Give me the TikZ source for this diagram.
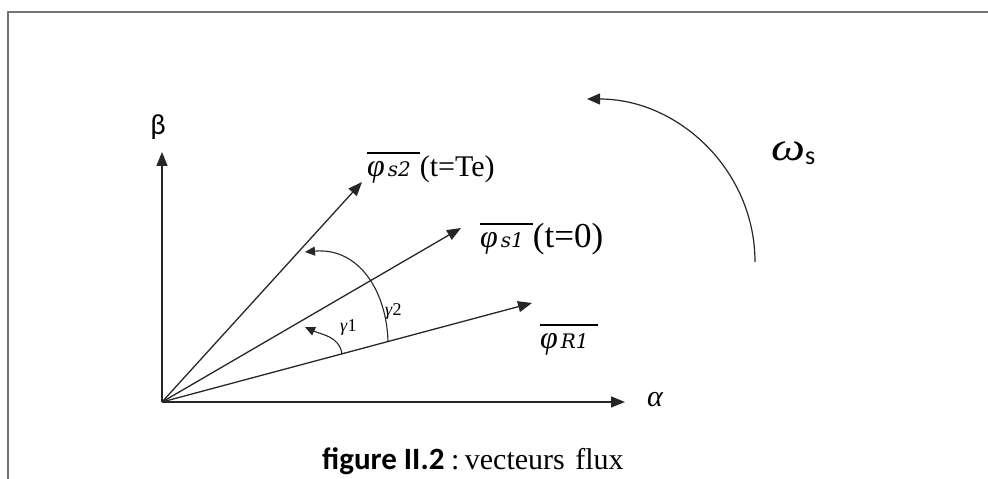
\documentclass[tikz,border=0pt]{standalone}
\usepackage{fontspec}
\usepackage{graphicx}
\setmainfont{Liberation Serif}
\newfontfamily\calib{Carlito}
\newfontfamily\dvs{DejaVu Serif}
\usetikzlibrary{arrows.meta}
\newcommand{\flx}[1]{\setbox0\hbox{\fontsize{32}{34}\selectfont\itshape φ\kern3pt\dvs\itshape\fontsize{20}{22}\selectfont #1\kern9pt}\rlap{\rule[23pt]{\wd0}{1.6pt}}\box0}
\begin{document}
\begin{tikzpicture}[x=1pt,y=1pt,
  vec/.style={line width=1.3pt, draw=black!85, -{Triangle[length=14pt,width=11pt]}},
  turn/.style={line width=1.1pt, draw=black!85, -{Triangle[length=10pt,width=9pt]}},
  bigturn/.style={line width=1.2pt, draw=black!85, -{Triangle[length=13pt,width=11pt]}},
  lbl/.style={inner sep=0pt, anchor=base west},
  frame/.style={draw=black!55, line width=2pt},
]
\useasboundingbox (0,0) rectangle (988,479);
% frame
\coordinate (F1) at (988,467);
\coordinate (F2) at (8,467);
\coordinate (F3) at (8,0);
\draw[frame] (F1) -- (F2) -- (F3);
% axes and vectors
\coordinate (O) at (162,77);
\coordinate (B) at (162,327);
\coordinate (A) at (625,77);
\coordinate (S2) at (362,297);
\coordinate (S1) at (461,251);
\coordinate (R1) at (532,176);
\draw[vec] (O) -- (B);
\draw[vec] (O) -- (A);
\draw[vec] (O) -- (S2);
\draw[vec] (O) -- (S1);
\draw[vec] (O) -- (R1);
% angle arcs
\coordinate (G1s) at (342,125);
\coordinate (G1e) at (305,152);
\coordinate (G2s) at (388,138);
\coordinate (G2e) at (305,227);
\draw[turn] (G1s) to[out=98,in=-25] (G1e);
\draw[turn] (G2s) to[out=92,in=5,looseness=1.1] (G2e);
% omega arc
\coordinate (W1) at (755,217);
\coordinate (W2) at (587,380);
\draw[bigturn] (W1) to[out=90,in=0] (W2);
% labels
\node (beta) at (158,352) {\calib\fontsize{29}{31}\selectfont β};
\node (alpha) at (655,79) {\fontsize{30}{32}\selectfont\itshape α};
\node[lbl] (ls2) at (367,302) {\flx{s2}\fontsize{30}{32}\selectfont(t=Te)};
\node[lbl] (ls1) at (480,231) {\flx{s1}\fontsize{35}{37}\selectfont(t=0)};
\node[lbl] (lr1) at (540,130) {\flx{R1}};
\node[lbl] (lg1) at (340,147) {\fontsize{18}{20}\selectfont\textit{γ}1};
\node[lbl] (lg2) at (385,163) {\fontsize{18}{20}\selectfont\textit{γ}2};
\node[lbl] (lw) at (771,318) {\scalebox{1.2}[1]{\fontsize{40}{42}\selectfont\textit{ω}}\raisebox{-4pt}{\calib\fontsize{26}{28}\selectfont s}};
% caption
\node[lbl] (cap1) at (322,9) {\calib\bfseries\fontsize{31}{33}\selectfont figure II.2};
\node[lbl] (cap2) at (451,9) {\fontsize{30}{32}\selectfont :\hspace{0.18em}vecteurs\hspace{0.35em}flux};
\end{tikzpicture}
\end{document}
